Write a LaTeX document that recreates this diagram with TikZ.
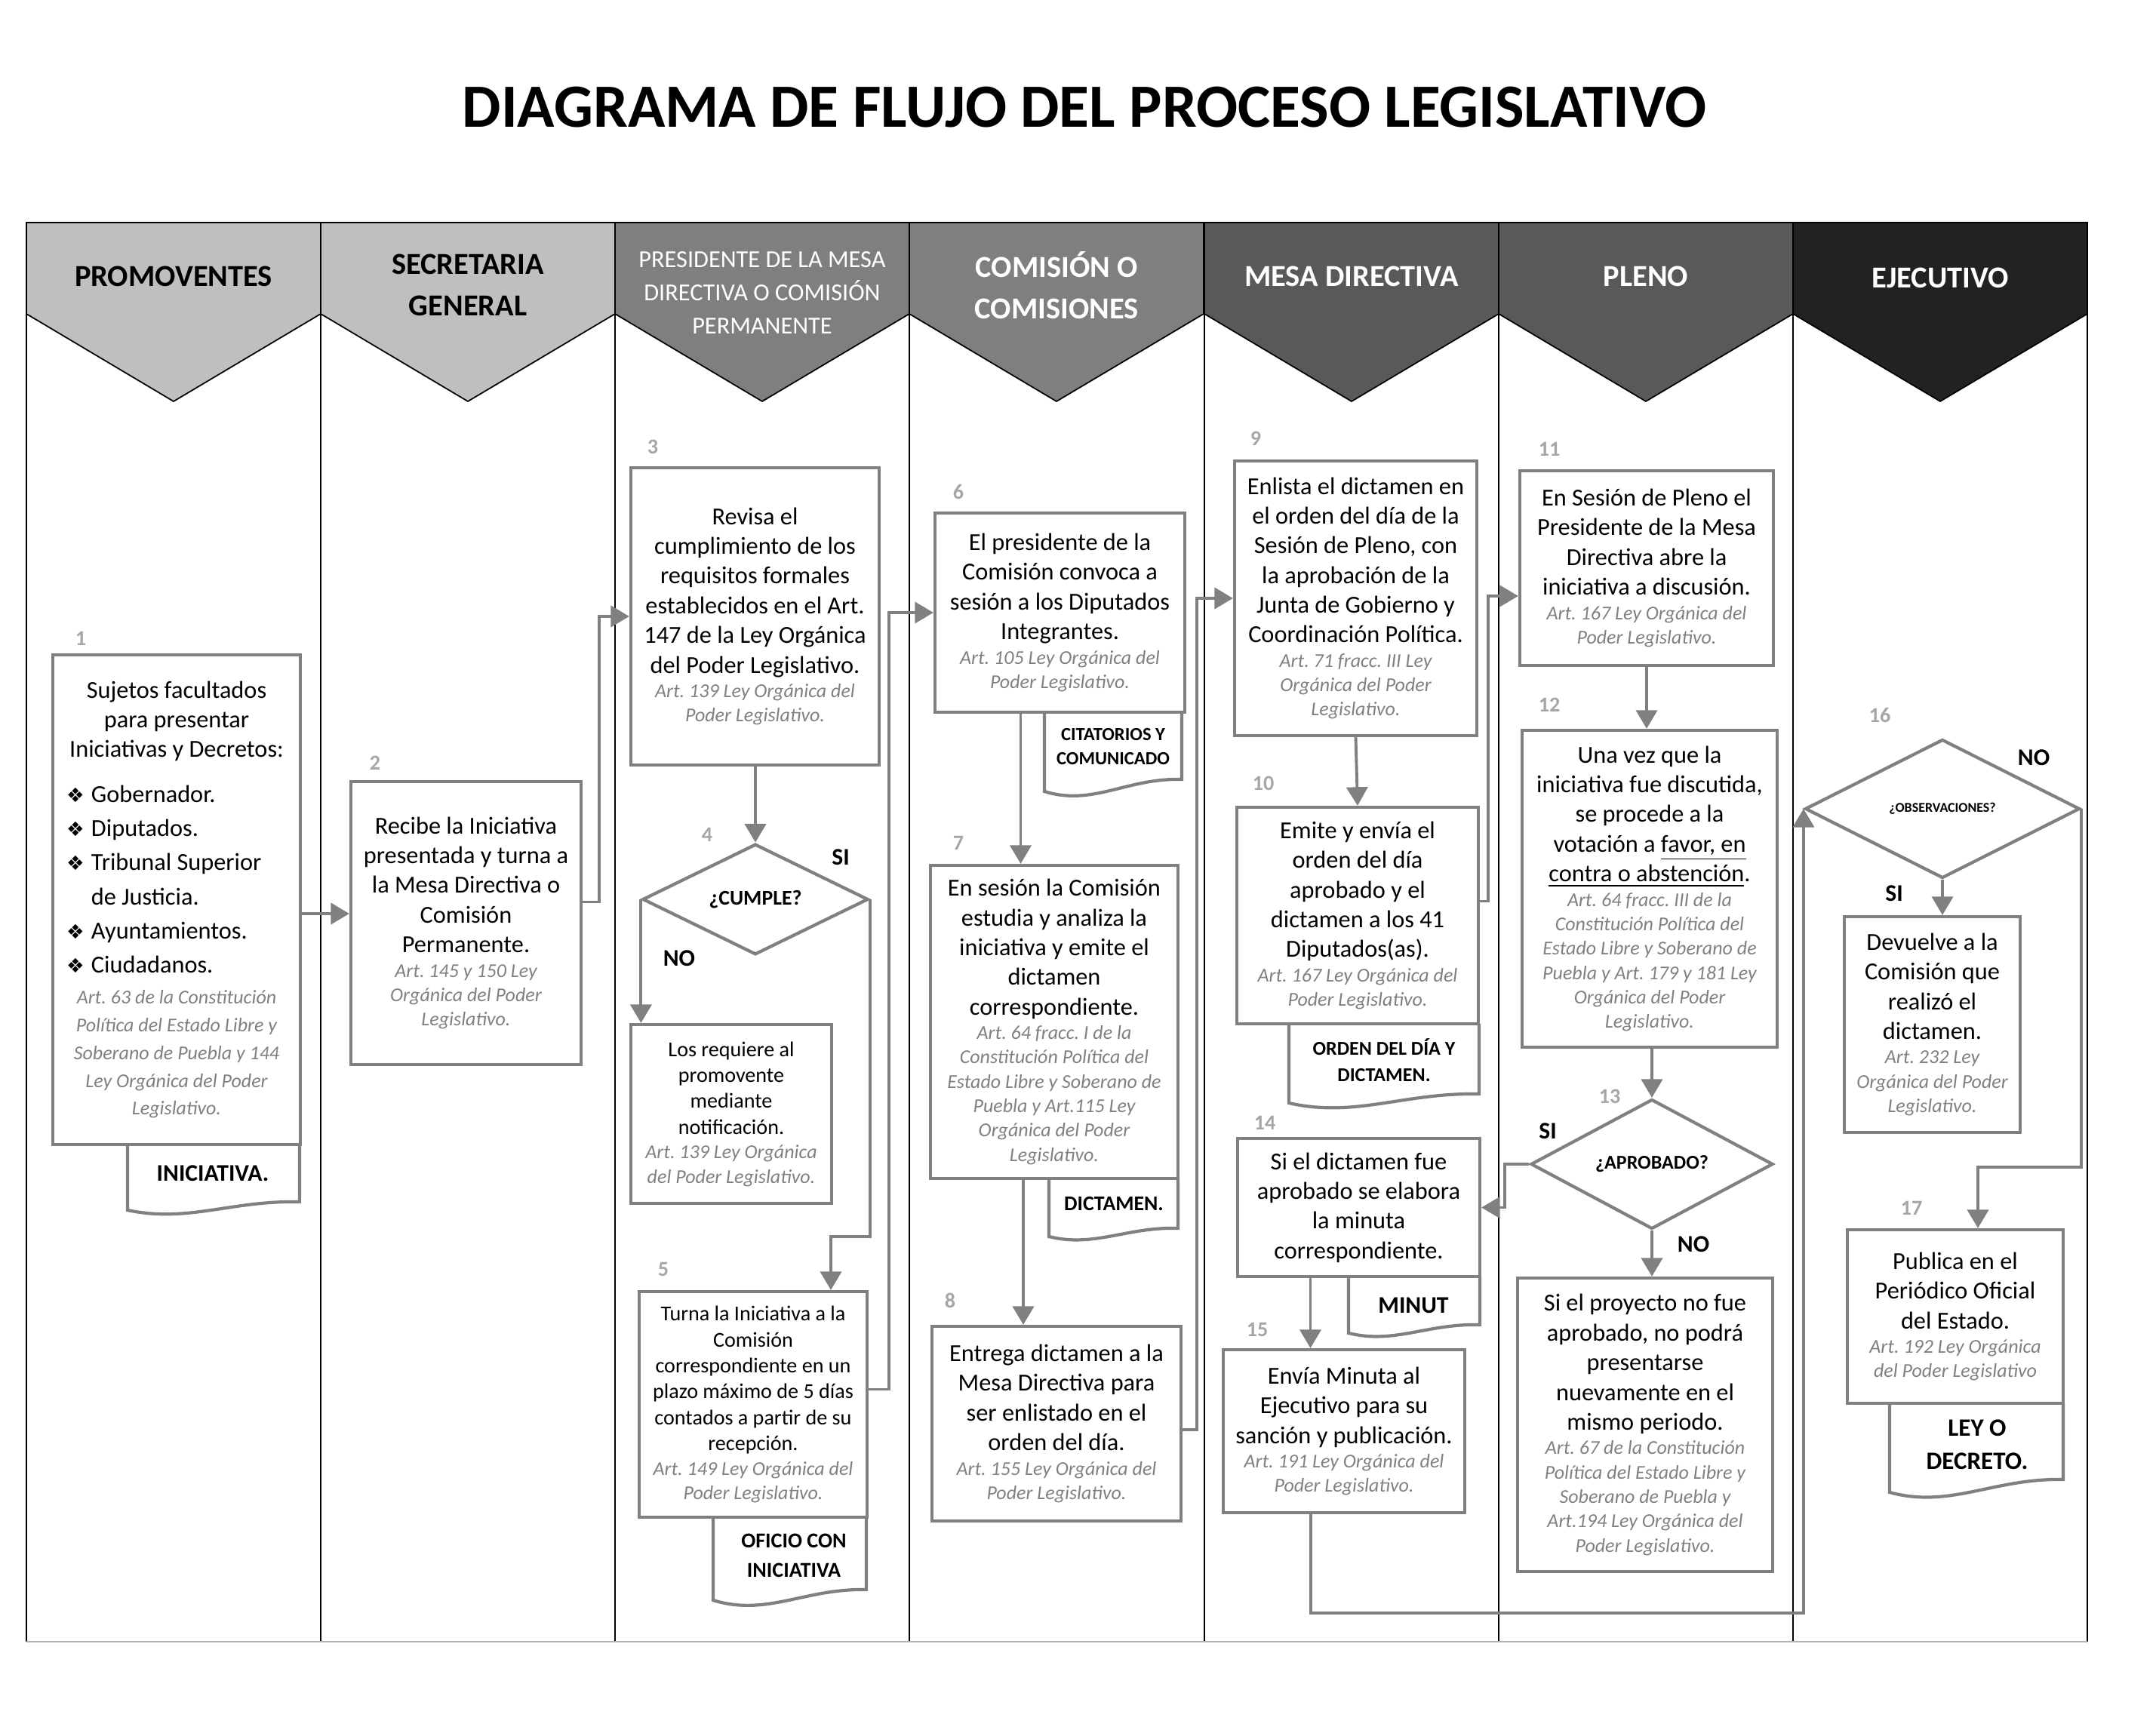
\documentclass[tikz,border=0pt]{standalone}
\usepackage{fontspec}
\setmainfont{Carlito}
\newfontfamily\symfont{DejaVu Sans}
\usetikzlibrary{arrows.meta,shapes.geometric,positioning}
\frenchspacing

\definecolor{linegray}{HTML}{808080}
\definecolor{citegray}{HTML}{808080}
\definecolor{numgray}{HTML}{A6A6A6}
\definecolor{headlight}{HTML}{BFBFBF}
\definecolor{headmid}{HTML}{7F7F7F}
\definecolor{headdark}{HTML}{595959}
\definecolor{headblack}{HTML}{222222}

\tikzset{
  procbox/.style={draw=linegray, line width=1.2pt, align=flush center, inner sep=0.09cm,
    font=\fontsize{9.2}{11.2}\selectfont},
  smallbox/.style={procbox, font=\fontsize{8}{9.8}\selectfont},
  decision/.style={diamond, draw=linegray, line width=1.2pt, inner sep=0pt,
    font=\bfseries\fontsize{7.9}{9}\selectfont},
  flow/.style={draw=linegray, line width=1.1pt, -{Triangle[length=7pt,width=8pt]}},
  docline/.style={draw=linegray, line width=1.2pt},
  doclabel/.style={align=center, font=\bfseries\fontsize{9}{10.5}\selectfont},
  steplabel/.style={text=numgray, font=\bfseries\fontsize{8}{9}\selectfont},
  answer/.style={font=\bfseries\fontsize{9}{10}\selectfont},
  lanehead/.style={draw=black, line width=0.5pt},
  headtext/.style={align=center, font=\bfseries\fontsize{11.5}{15.5}\selectfont},
}
\newcommand{\artref}[2][9.2]{\par{\centering\fontsize{7.4}{#1}\selectfont\itshape\color{citegray}#2\par}}
\newcommand{\bul}{\hspace*{0.09cm}\makebox[0.33cm][l]{\symfont\fontsize{7.5}{7}\selectfont ❖}}

\begin{document}
\begin{tikzpicture}
  \useasboundingbox (0,0) rectangle (28.57,-23.01);
  % Title
  \node[font=\bfseries\fontsize{23.2}{27}\selectfont] (title) at (14.37,-1.42)
    {DIAGRAMA DE FLUJO DEL PROCESO LEGISLATIVO};
  % Lane headers
  \foreach \xl/\col in {0.35/headlight, 4.25/headlight, 8.15/headmid, 12.05/headmid,
                        15.96/headdark, 19.86/headdark, 23.76/headblack} {
    \filldraw[fill=\col, lanehead] (\xl,-2.95) -- ++(3.90,0) -- ++(0,-1.21)
      -- ++(-1.95,-1.16) -- ++(-1.95,1.16) -- cycle;
  }
  % Lane borders
  \foreach \x in {0.35, 4.25, 8.15, 12.05, 15.96, 19.86, 23.76, 27.66} {
    \draw[black, line width=0.6pt] (\x,-2.95) -- (\x,-21.76);
  }
  \draw[gray!60, line width=0.6pt] (0.35,-21.76) -- (27.66,-21.76);
  % Header labels
  \node[headtext] (h1) at (2.30,-3.66) {PROMOVENTES};
  \node[headtext] (h2) at (6.20,-3.78) {SECRETARIA\\GENERAL};
  \node[headtext, text=white, font=\fontsize{9.2}{12.4}\selectfont] (h3) at (10.10,-3.88)
    {PRESIDENTE DE LA MESA\\DIRECTIVA O COMISIÓN\\PERMANENTE};
  \node[headtext, text=white] (h4) at (14.00,-3.78) {COMISIÓN O\\COMISIONES};
  \node[headtext, text=white] (h5) at (17.91,-3.66) {MESA DIRECTIVA};
  \node[headtext, text=white] (h6) at (21.81,-3.66) {PLENO};
  \node[headtext, text=white] (h7) at (25.71,-3.68) {EJECUTIVO};

  % Documents (drawn under the boxes)
  \draw[docline] (1.69,-15.17) -- (1.69,-16.04) .. controls +(0.80,-0.17) and +(-0.91,0.02) .. (3.97,-15.93) -- (3.97,-15.17);
  \draw[docline] (9.45,-20.11) -- (9.45,-21.21) .. controls +(0.71,-0.22) and +(-0.81,0.02) .. (11.48,-21.07) -- (11.48,-20.11);
  \draw[docline] (13.84,-9.44) -- (13.84,-10.49) .. controls +(0.64,-0.20) and +(-0.73,0.02) .. (15.66,-10.33) -- (15.66,-9.44);
  \draw[docline] (13.90,-15.62) -- (13.90,-16.39) .. controls +(0.60,-0.15) and +(-0.68,0.02) .. (15.61,-16.28) -- (15.61,-15.62);
  \draw[docline] (17.08,-13.57) -- (17.08,-14.62) .. controls +(0.88,-0.20) and +(-1.00,0.02) .. (19.60,-14.50) -- (19.60,-13.57);
  \draw[docline] (17.87,-16.92) -- (17.87,-17.67) .. controls +(0.61,-0.15) and +(-0.70,0.02) .. (19.61,-17.56) -- (19.61,-16.92);
  \draw[docline] (25.04,-18.60) -- (25.04,-19.78) .. controls +(0.80,-0.22) and +(-0.92,0.02) .. (27.34,-19.61) -- (27.34,-18.60);
  \node[doclabel] (dt1) at (2.82,-15.55) {INICIATIVA.};
  \node[doclabel, font=\bfseries\fontsize{8}{11}\selectfont] (dt5) at (10.52,-20.62) {OFICIO CON\\INICIATIVA};
  \node[doclabel, font=\bfseries\fontsize{7}{9.1}\selectfont] (dt6) at (14.75,-9.90) {CITATORIOS Y\\COMUNICADO};
  \node[doclabel, font=\bfseries\fontsize{7.9}{9}\selectfont] (dt7) at (14.76,-15.95) {DICTAMEN.};
  \node[doclabel, font=\bfseries\fontsize{7.4}{9.9}\selectfont] (dt10) at (18.34,-14.05) {ORDEN DEL DÍA Y\\DICTAMEN.};
  \node[doclabel] (dt14) at (18.73,-17.30) {MINUT};
  \node[doclabel, font=\bfseries\fontsize{9.4}{12.5}\selectfont] (dt17) at (26.20,-19.15) {LEY O\\DECRETO.};

  % Process boxes
  \node[procbox, fill=white, text width=3.10cm, minimum height=6.49cm] (n1) at (2.34,-11.925)
    {Sujetos facultados\\ para presentar\\ Iniciativas y Decretos:\par
     \vspace{4pt}
     {\raggedright\fontsize{9.2}{12.9}\selectfont
      \bul Gobernador.\\ \bul Diputados.\\ \bul Tribunal Superior\\
      \hspace*{0.42cm}de Justicia.\\ \bul Ayuntamientos.\\ \bul Ciudadanos.\par}
     \vspace{1pt}
     \artref[10.5]{Art. 63 de la Constitución\\ Política del Estado Libre y\\
       Soberano de Puebla y 144\\ Ley Orgánica del Poder\\ Legislativo.}};
  \node[procbox, text width=2.87cm, minimum height=3.75cm] (n2) at (6.175,-12.235)
    {Recibe la Iniciativa\\ presentada y turna a\\ la Mesa Directiva o\\ Comisión\\ Permanente.
     \artref{Art. 145 y 150 Ley\\ Orgánica del Poder\\ Legislativo.}};
  \node[procbox, text width=3.11cm, minimum height=3.94cm] (n3) at (10.005,-8.17)
    {Revisa el\\ cumplimiento de los\\ requisitos formales\\ establecidos en el Art.\\
     147 de la Ley Orgánica\\ del Poder Legislativo.
     \artref{Art. 139 Ley Orgánica del\\ Poder Legislativo.}};
  \node[decision, minimum width=2.99cm, minimum height=1.46cm] (d4) at (10.01,-11.92) {¿CUMPLE?};
  \node[smallbox, text width=2.48cm, minimum height=2.37cm] (n4) at (9.69,-14.765)
    {Los requiere al\\ promovente\\ mediante\\ notificación.
     \artref{Art. 139 Ley Orgánica\\ del Poder Legislativo.}};
  \node[smallbox, fill=white, text width=2.84cm, minimum height=2.99cm] (n5) at (9.98,-18.615)
    {Turna la Iniciativa a la\\ Comisión\\ correspondiente en un\\ plazo máximo de 5 días\\
     contados a partir de su\\ recepción.
     \artref{Art. 149 Ley Orgánica del\\ Poder Legislativo.}};
  \node[procbox, fill=white, text width=3.13cm, minimum height=2.64cm] (n6) at (14.045,-8.12)
    {El presidente de la\\ Comisión convoca a\\ sesión a los Diputados\\ Integrantes.
     \artref{Art. 105 Ley Orgánica del\\ Poder Legislativo.}};
  \node[procbox, fill=white, text width=3.10cm, minimum height=4.15cm] (n7) at (13.97,-13.545)
    {En sesión la Comisión\\ estudia y analiza la\\ iniciativa y emite el\\ dictamen\\ correspondiente.
     \artref{Art. 64 fracc. I de la\\ Constitución Política del\\ Estado Libre y Soberano de\\
       Puebla y Art.115 Ley\\ Orgánica del Poder\\ Legislativo.}};
  \node[procbox, text width=3.12cm, minimum height=2.58cm] (n8) at (14.00,-18.87)
    {Entrega dictamen a la\\ Mesa Directiva para\\ ser enlistado en el\\ orden del día.
     \artref{Art. 155 Ley Orgánica del\\ Poder Legislativo.}};
  \node[procbox, text width=3.03cm, minimum height=3.64cm] (n9) at (17.965,-7.93)
    {Enlista el dictamen en\\ el orden del día de la\\ Sesión de Pleno, con\\ la aprobación de la\\
     Junta de Gobierno y\\ Coordinación Política.
     \artref{Art. 71 fracc. III Ley\\ Orgánica del Poder\\ Legislativo.}};
  \node[procbox, fill=white, text width=3.02cm, minimum height=2.87cm] (n10) at (17.99,-12.135)
    {Emite y envía el\\ orden del día\\ aprobado y el\\ dictamen a los 41\\ Diputados(as).
     \artref{Art. 167 Ley Orgánica del\\ Poder Legislativo.}};
  \node[procbox, text width=3.18cm, minimum height=2.58cm] (n11) at (21.82,-7.53)
    {En Sesión de Pleno el\\ Presidente de la Mesa\\ Directiva abre la\\ iniciativa a discusión.
     \artref{Art. 167 Ley Orgánica del\\ Poder Legislativo.}};
  \node[procbox, text width=3.20cm, minimum height=4.20cm] (n12) at (21.86,-11.78)
    {Una vez que la\\ iniciativa fue discutida,\\ se procede a la\\
     votación a \underline{favor, en}\\ \underline{contra o abstención}.
     \artref{Art. 64 fracc. III de la\\ Constitución Política del\\ Estado Libre y Soberano de\\
       Puebla y Art. 179 y 181 Ley\\ Orgánica del Poder\\ Legislativo.}};
  \node[decision, font=\bfseries\fontsize{7.4}{9}\selectfont, minimum width=3.21cm,
    minimum height=1.44cm] (d13) at (21.89,-15.43) {¿APROBADO?};
  \node[procbox, text width=3.20cm, minimum height=3.89cm] (n13) at (21.80,-18.885)
    {Si el proyecto no fue\\ aprobado, no podrá\\ presentarse\\ nuevamente en el\\ mismo periodo.
     \artref{Art. 67 de la Constitución\\ Política del Estado Libre y\\ Soberano de Puebla y\\
       Art.194 Ley Orgánica del\\ Poder Legislativo.}};
  \node[procbox, fill=white, text width=3.03cm, minimum height=1.83cm] (n14) at (18.005,-16.005)
    {Si el dictamen fue\\ aprobado se elabora\\ la minuta\\ correspondiente.};
  \node[procbox, text width=3.02cm, minimum height=2.16cm] (n15) at (17.81,-18.97)
    {Envía Minuta al\\ Ejecutivo para su\\ sanción y publicación.
     \artref{Art. 191 Ley Orgánica del\\ Poder Legislativo.}};
  \node[decision, font=\bfseries\fontsize{5.1}{6}\selectfont, minimum width=3.64cm,
    minimum height=1.84cm] (d16) at (25.74,-10.72) {¿OBSERVACIONES?};
  \node[procbox, text width=2.15cm, minimum height=2.86cm] (n16) at (25.605,-13.58)
    {Devuelve a la\\ Comisión que\\ realizó el\\ dictamen.
     \artref{Art. 232 Ley\\ Orgánica del Poder\\ Legislativo.}};
  \node[procbox, fill=white, text width=2.68cm, minimum height=2.30cm] (n17) at (25.91,-17.45)
    {Publica en el\\ Periódico Oficial\\ del Estado.
     \artref{Art. 192 Ley Orgánica\\ del Poder Legislativo}};

  % Step numbers
  \foreach \n/\x/\y in {1/1.07/-8.46, 2/4.97/-10.11, 3/8.65/-5.92, 4/9.37/-11.06,
      5/8.79/-16.82, 6/12.70/-6.52, 7/12.70/-11.17, 8/12.59/-17.24, 9/16.64/-5.81,
      10/16.74/-10.38, 11/20.53/-5.95, 12/20.53/-9.34, 13/21.33/-14.53,
      14/16.76/-14.88, 15/16.66/-17.62, 16/24.91/-9.48, 17/25.33/-16.01} {
    \node[steplabel] (s\n) at (\x,\y) {\n};
  }
  % Answers
  \node[answer] (a4si) at (11.14,-11.36) {SI};
  \node[answer] (a4no) at (9.00,-12.70) {NO};
  \node[answer] (a13si) at (20.51,-14.99) {SI};
  \node[answer] (a13no) at (22.44,-16.49) {NO};
  \node[answer] (a16no) at (26.95,-10.04) {NO};
  \node[answer] (a16si) at (25.10,-11.84) {SI};

  % Connectors
  \draw[flow] ([yshift=-0.185cm]n1.east) -- ([yshift=0.125cm]n2.west);
  \draw[flow] ([yshift=0.28cm]n2.east) -- ++(0.22,0) |- (n3.west);
  \draw[flow] (d4.north |- n3.south) -- (d4.north);
  \draw[flow] (d4.west) -- (d4.west |- n4.north);
  \draw[flow] (d4.east) -- ++(0,-4.47) -| ([xshift=1.03cm]n5.north);
  \draw[flow] ([yshift=0.2cm]n5.east) -- ++(0.27,0) |- (n6.west);
  \draw[flow] ([xshift=-0.52cm]n6.south) -- ([xshift=-0.52cm]n6.south |- n7.north);
  \draw[flow] ([xshift=-0.41cm]n7.south) -- ([xshift=-0.41cm]n7.south |- n8.north);
  \draw[flow] ([yshift=-0.08cm]n8.east) -- ++(0.19,0) |- (n9.west);
  \draw[flow] (n9.south) -- (n10.north);
  \draw[flow] ([yshift=0.19cm]n10.east) -- ++(0.11,0) |- ([yshift=-0.37cm]n11.west);
  \draw[flow] (n11.south) -- (n11.south |- n12.north);
  \draw[flow] (d13.north |- n12.south) -- (d13.north);
  \draw[flow] (d13.west) -- ++(-0.32,0) |- (n14.east);
  \draw[flow] (d13.south) -- (d13.south |- n13.north);
  \draw[flow] ([xshift=-0.64cm]n14.south) -- ([xshift=-0.64cm]n14.south |- n15.north);
  \draw[flow] ([xshift=-0.44cm]n15.south) -- ++(0,-1.31) -| (d16.west);
  \draw[flow] (d16.south) -- (d16.south |- n16.north);
  \draw[flow] (d16.east) -- ++(0,-4.75) -| ([xshift=0.30cm]n17.north);
\end{tikzpicture}
\end{document}
